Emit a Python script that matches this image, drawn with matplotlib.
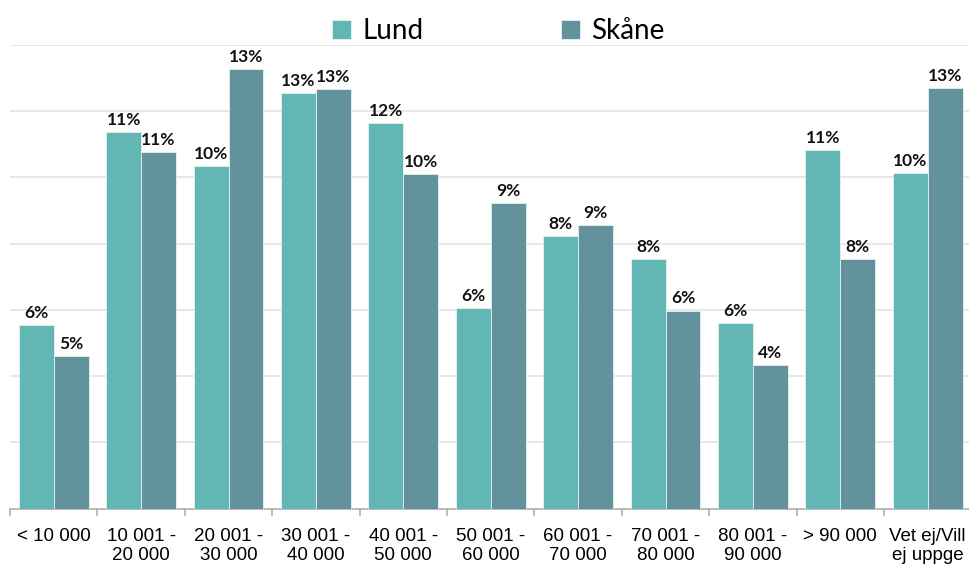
import numpy as np
import matplotlib
matplotlib.use("Agg")
import matplotlib.pyplot as plt

categories = ["< 10 000", "10 001 -\n20 000", "20 001 -\n30 000", "30 001 -\n40 000",
              "40 001 -\n50 000", "50 001 -\n60 000", "60 001 -\n70 000", "70 001 -\n80 000",
              "80 001 -\n90 000", "> 90 000", "Vet ej/Vill\nej uppge"]
lund = [5.54, 11.38, 10.34, 12.55, 11.64, 6.06, 8.23, 7.54, 5.60, 10.82, 10.13]
skane = [4.61, 10.76, 13.28, 12.67, 10.11, 9.23, 8.56, 5.98, 4.33, 7.54, 12.71]
series_names = ["Lund", "Skåne"]

col_lund = "#62b6b3"
col_skane = "#62939d"

fig = plt.figure(figsize=(9.69, 5.65), dpi=100)
ax = fig.add_axes([10 / 969, 0.1, 961.4 / 969, 0.8204])

x = np.arange(len(categories))
w = 0.4
b1 = ax.bar(x - w / 2, lund, w, color=col_lund, edgecolor="#e6f3f3", linewidth=0.6,
            label=series_names[0], zorder=3)
b2 = ax.bar(x + w / 2, skane, w, color=col_skane, edgecolor="#e6f0f2", linewidth=0.6,
            label=series_names[1], zorder=3)

for bars in (b1, b2):
    for r in bars:
        h = r.get_height()
        ax.annotate("%d%%" % round(h), (r.get_x() + r.get_width() / 2, h),
                    xytext=(0, 3), textcoords="offset points", ha="center", va="bottom",
                    fontsize=12.5, fontweight="bold", family="Lato", color="#111111")

ax.set_xlim(-0.5, len(categories) - 0.5)
ax.set_ylim(0, 14)
ax.set_yticks(np.arange(0, 15, 2))
ax.yaxis.grid(True, color="#e3e3e3", linewidth=1.2, zorder=0)
ax.tick_params(axis="y", left=False, labelleft=False)

ax.set_xticks(x)
ax.set_xticklabels(categories, family="Liberation Sans", fontsize=13.5, linespacing=1.15)
ax.set_xticks(np.arange(-0.5, len(categories), 1), minor=True)
ax.tick_params(axis="x", which="major", length=0, pad=14)
ax.tick_params(axis="x", which="minor", length=5, color="#b0b0b0", width=1.2)

for s in ["top", "right", "left"]:
    ax.spines[s].set_visible(False)
ax.spines["bottom"].set_color("#b0b0b0")
ax.spines["bottom"].set_linewidth(1.2)

leg = ax.legend(loc="center", bbox_to_anchor=(0.508, 1.03), ncol=2, frameon=False,
                prop={"family": "Lato", "size": 20}, handlelength=0.7, handleheight=0.7,
                handletextpad=0.4, columnspacing=4.95, borderaxespad=0)

fig.savefig("out.png", dpi=100)
